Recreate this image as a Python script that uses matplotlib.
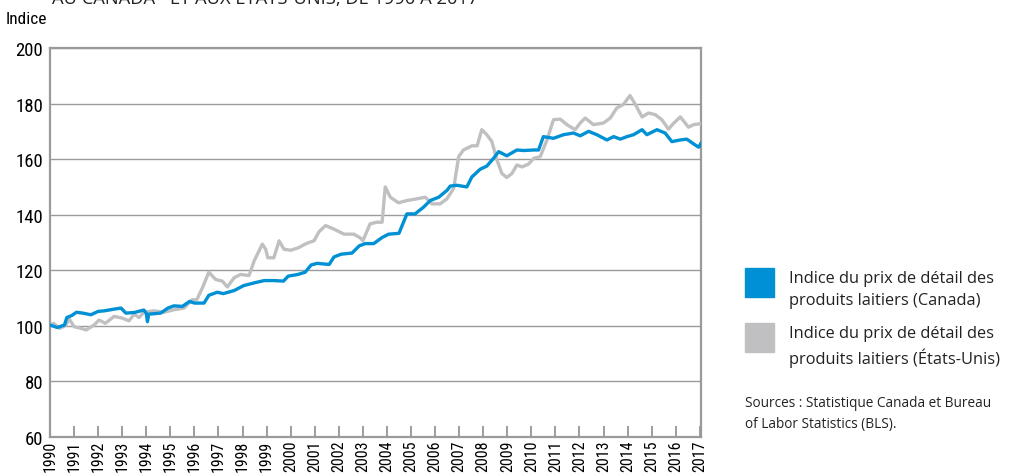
import matplotlib.pyplot as plt
from matplotlib.patches import Rectangle
from matplotlib import font_manager

# data (year, index 1990 = 100)
can_years = [1990.0, 1990.3, 1990.6, 1990.7, 1990.9, 1991.1, 1991.35, 1991.7, 1992.0, 1992.25,
             1992.65, 1992.95, 1993.15, 1993.5, 1993.9, 1994.0, 1994.05, 1994.1, 1994.6, 1994.9,
             1995.15, 1995.5, 1995.8, 1996.0, 1996.4, 1996.6, 1996.95, 1997.2, 1997.65, 1998.05,
             1998.5, 1998.9, 1999.3, 1999.7, 1999.9, 2000.3, 2000.6, 2000.85, 2001.1, 2001.6,
             2001.8, 2002.1, 2002.55, 2002.85, 2003.1, 2003.45, 2003.8, 2004.07, 2004.5, 2004.83,
             2005.17, 2005.52, 2005.8, 2006.15, 2006.5, 2006.63, 2006.9, 2007.32, 2007.53, 2007.88,
             2008.15, 2008.43, 2008.64, 2008.98, 2009.4, 2009.68, 2010.1, 2010.3, 2010.5, 2010.92,
             2011.34, 2011.75, 2012.03, 2012.38, 2012.72, 2013.14, 2013.42, 2013.7, 2013.97, 2014.25,
             2014.6, 2014.8, 2015.22, 2015.56, 2015.84, 2016.19, 2016.46, 2016.74, 2016.95, 2017.05]
can_values = [100.3, 99.4, 100.3, 103.0, 103.7, 104.9, 104.6, 104.0, 105.2, 105.4,
              106.0, 106.4, 104.6, 104.8, 105.7, 104.5, 101.5, 104.2, 104.6, 106.4,
              107.2, 107.0, 108.8, 108.2, 108.2, 111.0, 112.1, 111.6, 112.7, 114.5,
              115.5, 116.3, 116.3, 116.1, 117.9, 118.5, 119.3, 121.9, 122.5, 122.1,
              124.8, 125.8, 126.2, 128.8, 129.6, 129.6, 131.8, 133.0, 133.3, 140.3,
              140.3, 142.7, 145.1, 146.3, 148.8, 150.3, 150.6, 150.0, 153.6, 156.4,
              157.5, 160.3, 162.7, 161.2, 163.3, 163.1, 163.3, 163.3, 168.1, 167.5,
              168.8, 169.4, 168.4, 170.0, 168.8, 166.9, 168.1, 167.2, 168.1, 168.8,
              170.6, 168.8, 170.6, 169.4, 166.3, 166.9, 167.2, 165.5, 164.3, 165.7]

us_years = [1990.0, 1990.15, 1990.4, 1990.65, 1990.8, 1991.0, 1991.3, 1991.5, 1991.83, 1992.04,
            1992.3, 1992.66, 1993.0, 1993.28, 1993.5, 1993.7, 1993.9, 1994.32, 1994.74, 1995.15,
            1995.57, 1995.91, 1996.1, 1996.33, 1996.6, 1996.88, 1997.16, 1997.37, 1997.65, 1997.92,
            1998.27, 1998.48, 1998.82, 1998.96, 1999.05, 1999.3, 1999.52, 1999.72, 2000.0, 2000.35,
            2000.55, 2000.76, 2000.97, 2001.18, 2001.45, 2001.8, 2002.22, 2002.63, 2002.9, 2003.0,
            2003.3, 2003.58, 2003.8, 2003.93, 2004.14, 2004.48, 2004.83, 2005.24, 2005.59, 2005.87,
            2006.21, 2006.49, 2006.77, 2006.98, 2007.18, 2007.53, 2007.75, 2007.94, 2008.15, 2008.36,
            2008.57, 2008.78, 2008.98, 2009.19, 2009.4, 2009.61, 2009.88, 2010.1, 2010.37, 2010.65,
            2010.92, 2011.2, 2011.48, 2011.82, 2012.03, 2012.24, 2012.58, 2013.0, 2013.28, 2013.55,
            2013.83, 2014.1, 2014.32, 2014.6, 2014.87, 2015.15, 2015.42, 2015.7, 2015.9, 2016.19,
            2016.53, 2016.74, 2017.05]
us_values = [100.3, 100.9, 99.1, 100.1, 102.5, 99.7, 99.1, 98.5, 100.3, 102.1,
             100.9, 103.4, 102.8, 101.8, 104.2, 103.0, 104.9, 105.4, 104.9, 105.8,
             106.4, 109.4, 109.4, 113.6, 119.3, 116.7, 116.1, 114.0, 117.3, 118.5,
             118.1, 123.3, 129.4, 127.6, 124.5, 124.5, 130.6, 127.6, 127.2, 128.2,
             129.2, 130.0, 130.6, 133.9, 136.1, 134.8, 133.0, 133.0, 131.6, 130.6,
             136.7, 137.3, 137.3, 150.0, 146.3, 144.3, 145.1, 145.7, 146.3, 143.9,
             143.9, 145.7, 149.4, 160.9, 163.3, 164.8, 164.8, 170.6, 168.8, 166.3,
             159.7, 154.8, 153.4, 154.8, 157.9, 157.2, 158.2, 160.3, 160.9, 166.9,
             174.2, 174.4, 172.4, 170.6, 173.0, 174.8, 172.4, 173.0, 174.8, 178.4,
             179.7, 182.9, 179.7, 175.2, 176.6, 176.0, 174.2, 170.8, 172.8, 175.2,
             171.5, 172.4, 172.8]

year_ticks = list(range(1990, 2018))
y_ticks = [60, 80, 100, 120, 140, 160, 180, 200]

# pick a narrow face if one is installed
names = {f.name for f in font_manager.fontManager.ttflist}
narrow, stretch = 'DejaVu Sans', 'condensed'
for cand in ['Liberation Sans Narrow', 'Roboto Condensed', 'Open Sans Condensed']:
    if cand in names:
        narrow, stretch = cand, 'normal'
        break

blue = '#0090d4'
grey = '#c0c0c3'

fig = plt.figure(figsize=(10.33, 4.77), dpi=100)
ax = fig.add_axes([50 / 1033, 1 - 438 / 477, 651 / 1033, 389 / 477])

ax.plot(us_years, us_values, color=grey, lw=2.4, solid_joinstyle='round', zorder=3)
ax.plot(can_years, can_values, color=blue, lw=2.4, solid_joinstyle='round', zorder=4)

ax.set_xlim(1990, 2017.05)
ax.set_ylim(60, 200)
ax.set_yticks(y_ticks)
ax.set_xticks(year_ticks)
ax.set_xticklabels([str(y) for y in year_ticks], rotation=90, fontfamily=narrow,
                   fontstretch=stretch, fontsize=11.5)
ax.set_yticklabels([str(v) for v in y_ticks], fontfamily=narrow, fontstretch=stretch, fontsize=13.5)
ax.tick_params(axis='x', direction='in', length=8, width=1.2, color='#8c8c8c', pad=2)
ax.tick_params(axis='y', length=0, pad=5)
ax.grid(axis='y', color='#9a9a9a', lw=1)
ax.set_axisbelow(True)
for s in ax.spines.values():
    s.set_color('#9a9a9a')
    s.set_linewidth(1.6)

fig.text(6 / 1033, 1 - 19 / 477, 'Indice', fontfamily=narrow, fontstretch=stretch,
         fontsize=12.5, va='center', ha='left')
fig.text(52 / 1033, 1 + 2 / 477, 'AU CANADA* ET AUX ÉTATS-UNIS, DE 1990 À 2017',
         fontfamily='Open Sans', fontsize=13.2, va='center', ha='left', color='#222222')

# legend
fig.add_artist(Rectangle((745 / 1033, 1 - 298 / 477), 29 / 1033, 29 / 477,
                         transform=fig.transFigure, color=blue))
fig.add_artist(Rectangle((745 / 1033, 1 - 353 / 477), 29 / 1033, 29 / 477,
                         transform=fig.transFigure, color=grey))
fig.text(789 / 1033, 1 - 290 / 477, 'Indice du prix de détail des\nproduits laitiers (Canada)',
         fontfamily='Open Sans', fontsize=11.8, va='center', ha='left', linespacing=1.42, color='#222222')
fig.text(789 / 1033, 1 - 347 / 477, 'Indice du prix de détail des\nproduits laitiers (États-Unis)',
         fontfamily='Open Sans', fontsize=11.8, va='center', ha='left', linespacing=1.42, color='#222222')
fig.text(745 / 1033, 1 - 414 / 477, 'Sources : Statistique Canada et Bureau\nof Labor Statistics (BLS).',
         fontfamily='Open Sans', fontsize=9.8, va='center', ha='left', linespacing=1.5, color='#222222')

fig.savefig('out.png', dpi=100)
